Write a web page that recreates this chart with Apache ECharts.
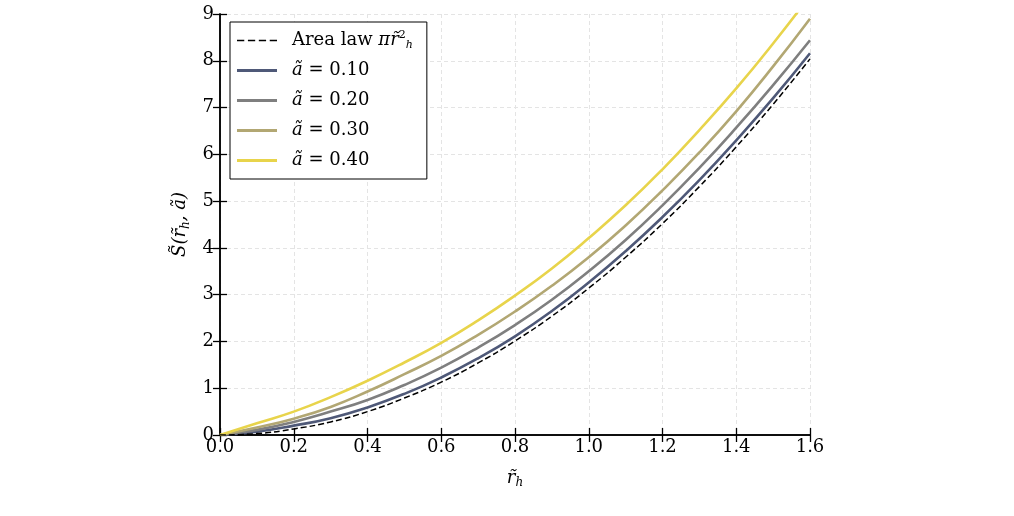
<!DOCTYPE html>
<html>
<head>
<meta charset="utf-8">
<title>entropy vs horizon radius</title>
<script src="https://cdn.jsdelivr.net/npm/echarts@6/dist/echarts.min.js"></script>
<style>
  html, body { margin: 0; padding: 0; background: #fff; }
  #box { width: 1014px; height: 516px; }
</style>
</head>
<body>
<div id="box"></div>
<script>
// values, r from 0 to 1.6 step 0.1
var rh = [0, 0.1, 0.2, 0.3, 0.4, 0.5, 0.6, 0.7, 0.8, 0.9, 1.0, 1.1, 1.2, 1.3, 1.4, 1.5, 1.6]
var areaLaw = [0, 0.03, 0.13, 0.28, 0.50, 0.79, 1.13, 1.54, 2.01, 2.54, 3.14, 3.80, 4.52, 5.31, 6.16, 7.07, 8.04]
var sA010 = [0, 0.07, 0.20, 0.36, 0.59, 0.88, 1.23, 1.64, 2.11, 2.65, 3.26, 3.93, 4.66, 5.45, 6.30, 7.20, 8.16]
var sA020 = [0, 0.11, 0.28, 0.50, 0.75, 1.07, 1.44, 1.87, 2.35, 2.89, 3.50, 4.17, 4.91, 5.71, 6.57, 7.48, 8.44]
var sA030 = [0, 0.16, 0.35, 0.60, 0.93, 1.30, 1.69, 2.14, 2.64, 3.19, 3.80, 4.48, 5.23, 6.04, 6.92, 7.88, 8.90]
var sA040 = [0, 0.25, 0.50, 0.81, 1.16, 1.55, 1.97, 2.45, 2.98, 3.56, 4.21, 4.91, 5.68, 6.52, 7.41, 8.37, 9.39]
var aLabels = ['0.10', '0.20', '0.30', '0.40']
var colors = ['#4f5978', '#7f7f7f', '#b2a773', '#e8d44b']

var font = 'DejaVu Serif'

function pairs(ys) {
  return rh.map(function (x, i) { return [x, ys[i]] })
}

var mCharts = echarts.init(document.querySelector('#box'))

var series = [{
  name: 'area',
  type: 'line',
  data: pairs(areaLaw),
  smooth: true,
  showSymbol: false,
  symbol: 'none',
  z: 5,
  lineStyle: { color: '#000', width: 1.5, type: [6, 3] },
  itemStyle: { color: '#000' }
}]
var curves = [sA010, sA020, sA030, sA040]
curves.forEach(function (ys, k) {
  series.push({
    name: 'a' + k,
    type: 'line',
    data: pairs(ys),
    smooth: true,
    showSymbol: false,
    symbol: 'none',
    z: 3,
    lineStyle: { color: colors[k], width: 2.6 },
    itemStyle: { color: colors[k] }
  })
})

// legend icons: dashes for the area law, plain bar for the rest
var dashIcon = 'path://M0,0h7v1.6h-7z M10.5,0h7v1.6h-7z M21,0h7v1.6h-7z M31.5,0h7v1.6h-7z'
var barIcon = 'path://M0,0h40v3h-40z'
var legendData = [{ name: 'area', icon: dashIcon }]
for (var k = 0; k < 4; k++) legendData.push({ name: 'a' + k, icon: barIcon })

var labelStyle = { color: '#000', fontFamily: font, fontSize: 18 }
var gridLine = { show: true, lineStyle: { color: '#e4e4e4', width: 1, type: [4, 3] } }
var tick = { show: true, inside: true, length: 7, lineStyle: { color: '#000', width: 1.3 } }
var frame = { show: true, lineStyle: { color: '#000', width: 1.5 } }
var mathRich = {
  i: { fontFamily: font, fontStyle: 'italic', fontSize: 18 },
  sub: { fontFamily: font, fontStyle: 'italic', fontSize: 12, verticalAlign: 'bottom', padding: [10, 0, 0, 0] }
}

var option = {
  animation: false,
  backgroundColor: '#fff',
  grid: { left: 220, right: 204, top: 14, bottom: 81 },
  legend: {
    left: 230, top: 22,
    orient: 'vertical',
    data: legendData,
    backgroundColor: '#fff',
    borderColor: '#000',
    borderWidth: 1,
    borderRadius: 0,
    padding: [8, 14, 8, 7],
    itemGap: 9,
    itemWidth: 40,
    itemHeight: 3,
    formatter: function (name) {
      if (name === 'area') return 'Area law {i|πr\u0303}{sup|2}{sub|h}'
      return '{i|ã} = ' + aLabels[+name.slice(1)]
    },
    textStyle: {
      color: '#000', fontFamily: font, fontSize: 18, lineHeight: 21,
      padding: [0, 0, 0, 10],
      rich: {
        i: { fontFamily: font, fontStyle: 'italic', fontSize: 18 },
        sup: { fontFamily: font, fontSize: 11, verticalAlign: 'top', padding: [0, 0, 10, 0] },
        sub: { fontFamily: font, fontStyle: 'italic', fontSize: 11, verticalAlign: 'bottom', padding: [8, 0, 0, 0] }
      }
    }
  },
  xAxis: [{
    type: 'value', min: 0, max: 1.6, interval: 0.2,
    name: '{i|r\u0303}{sub|h}',
    nameLocation: 'middle', nameGap: 32,
    nameTextStyle: { color: '#000', fontFamily: font, fontSize: 18, rich: mathRich },
    axisLine: frame,
    axisTick: tick,
    axisLabel: Object.assign({ margin: 3, formatter: function (v) { return v.toFixed(1) } }, labelStyle),
    splitLine: gridLine
  }, {
    type: 'value', min: 0, max: 1.6, interval: 0.2, position: 'top',
    axisLine: frame,
    axisTick: tick,
    axisLabel: { show: false },
    splitLine: { show: false }
  }],
  yAxis: [{
    type: 'value', min: 0, max: 9, interval: 1,
    name: '{i|S\u0303(r\u0303}{sub|h}{i|, ã)}',
    nameLocation: 'middle', nameGap: 28, nameRotate: 90,
    nameTextStyle: { color: '#000', fontFamily: font, fontSize: 18, rich: mathRich },
    axisLine: frame,
    axisTick: tick,
    axisLabel: Object.assign({ margin: 6 }, labelStyle),
    splitLine: gridLine
  }, {
    type: 'value', min: 0, max: 9, interval: 1, position: 'right',
    axisLine: frame,
    axisTick: tick,
    axisLabel: { show: false },
    splitLine: { show: false }
  }],
  series: series
}
mCharts.setOption(option)
</script>
</body>
</html>
